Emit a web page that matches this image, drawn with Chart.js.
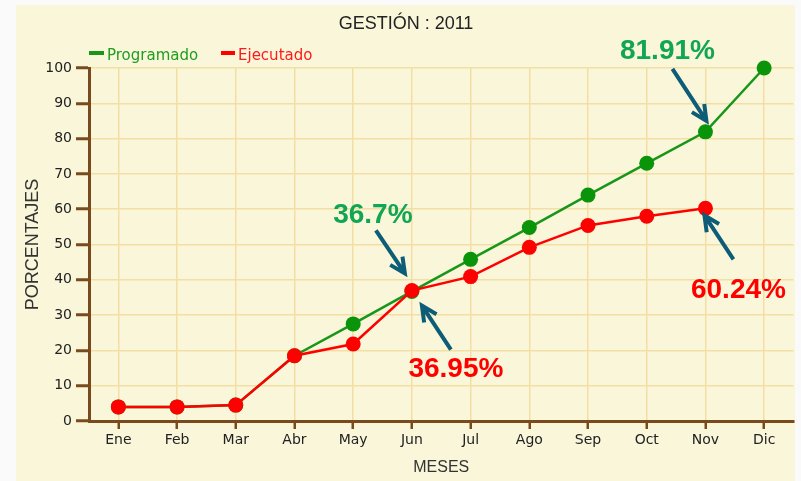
<!doctype html>
<html lang="es">
<head>
  <meta charset="utf-8" />
  <title>Gestión 2011</title>
  <script src="https://cdn.jsdelivr.net/npm/chart.js@4.4.1/dist/chart.umd.min.js"></script>
  <style>
    html, body { margin: 0; padding: 0; background: #fafafa; }
    .chartContainer { position: relative; width: 801px; height: 481px; }
  </style>
</head>
<body>
  <div class="chartContainer">
    <canvas id="avanceChart"></canvas>
  </div>
<script>
  // data
  var meses = ['Ene', 'Feb', 'Mar', 'Abr', 'May', 'Jun', 'Jul', 'Ago', 'Sep', 'Oct', 'Nov', 'Dic'];
  var programado = [4, 4, 4.5, 18.5, 27.5, 36.7, 45.8, 54.8, 64, 73, 81.91, 100];
  var ejecutado = [4, 4, 4.5, 18.5, 21.8, 36.95, 40.9, 49.2, 55.4, 58, 60.24, null];
  var yTicks = [0, 10, 20, 30, 40, 50, 60, 70, 80, 90, 100];

  var brown = '#7a4a1f';
  var gridColor = '#f3dea4';
  var greenLine = '#18961a';
  var greenDot = '#0a940a';
  var red = '#ff0000';
  var arrowColor = '#0d5c78';

  // callouts, placed relative to their point (dataset index, point index)
  var callouts = [
    { ds: 1, i: 10, text: '81.91%', color: '#11a653', tx: -38, ty: -73, from: [-33, -63], to: [1, -11] },
    { ds: 1, i: 5, text: '36.7%', color: '#11a653', tx: -39, ty: -68, from: [-36, -61], to: [-7, -18] },
    { ds: 0, i: 5, text: '36.95%', color: '#ff0000', tx: 44, ty: 86, from: [39, 59], to: [10, 15] },
    { ds: 0, i: 10, text: '60.24%', color: '#ff0000', tx: 33, ty: 90, from: [28, 51], to: [-1, 7] }
  ];

  function arrow(ctx, x1, y1, x2, y2) {
    var a = Math.atan2(y2 - y1, x2 - x1);
    var h = 17;
    ctx.beginPath();
    ctx.moveTo(x1, y1);
    ctx.lineTo(x2, y2);
    ctx.moveTo(x2 - h * Math.cos(a - 0.45), y2 - h * Math.sin(a - 0.45));
    ctx.lineTo(x2, y2);
    ctx.lineTo(x2 - h * Math.cos(a + 0.45), y2 - h * Math.sin(a + 0.45));
    ctx.stroke();
  }

  var decor = {
    id: 'decor',
    beforeDraw: function(chart) {
      var ctx = chart.ctx;
      ctx.save();
      ctx.fillStyle = '#fafafa';
      ctx.fillRect(0, 0, chart.width, chart.height);
      ctx.fillStyle = '#f9f6d9';
      ctx.fillRect(16, 5, 779, chart.height - 5);

      // title
      ctx.fillStyle = '#222';
      ctx.font = '18px "Liberation Sans"';
      ctx.textAlign = 'center';
      ctx.textBaseline = 'alphabetic';
      ctx.fillText('GESTIÓN : 2011', 406, 29);

      // legend
      ctx.font = '15px "DejaVu Sans"';
      ctx.textAlign = 'left';
      ctx.lineWidth = 4;
      ctx.strokeStyle = greenLine;
      ctx.beginPath(); ctx.moveTo(89, 53); ctx.lineTo(104, 53); ctx.stroke();
      ctx.fillStyle = '#1e9e1e';
      ctx.fillText('Programado', 107, 60);
      ctx.strokeStyle = red;
      ctx.beginPath(); ctx.moveTo(221, 53); ctx.lineTo(235, 53); ctx.stroke();
      ctx.fillStyle = '#ff1a1a';
      ctx.fillText('Ejecutado', 238, 60);
      ctx.restore();
    },
    afterDatasetsDraw: function(chart) {
      var ctx = chart.ctx;
      ctx.save();
      callouts.forEach(function(c) {
        var pt = chart.getDatasetMeta(c.ds).data[c.i];
        ctx.strokeStyle = arrowColor;
        ctx.lineWidth = 4;
        ctx.lineCap = 'butt';
        arrow(ctx, pt.x + c.from[0], pt.y + c.from[1], pt.x + c.to[0], pt.y + c.to[1]);
        ctx.fillStyle = c.color;
        ctx.font = 'bold 28px "Liberation Sans"';
        ctx.textAlign = 'center';
        ctx.textBaseline = 'alphabetic';
        ctx.fillText(c.text, pt.x + c.tx, pt.y + c.ty);
      });
      ctx.restore();
    }
  };

  var ctx = document.getElementById('avanceChart').getContext('2d');
  var chart = new Chart(ctx, {
    type: 'line',
    data: {
      labels: meses,
      datasets: [{
        label: 'Ejecutado',
        data: ejecutado,
        borderColor: red,
        backgroundColor: red,
        borderWidth: 2.5,
        pointRadius: 7.5,
        pointBorderWidth: 0,
        pointBackgroundColor: red,
        tension: 0,
        clip: false,
        order: 0
      }, {
        label: 'Programado',
        data: programado,
        borderColor: greenLine,
        backgroundColor: greenDot,
        borderWidth: 2.5,
        pointRadius: 7.5,
        pointBorderWidth: 0,
        pointBackgroundColor: greenDot,
        tension: 0,
        clip: false,
        order: 1
      }]
    },
    options: {
      responsive: true,
      maintainAspectRatio: false,
      animation: false,
      layout: { padding: { left: 16, top: 68, right: 5, bottom: 0 } },
      plugins: {
        legend: { display: false },
        title: { display: false },
        tooltip: { enabled: false }
      },
      scales: {
        x: {
          offset: true,
          grid: {
            offset: false,
            color: gridColor,
            lineWidth: 1.5,
            tickColor: brown,
            tickWidth: 2.5,
            tickLength: 8
          },
          border: { color: brown, width: 3 },
          ticks: {
            color: '#222',
            font: { family: 'DejaVu Sans', size: 14 },
            padding: 3,
            maxRotation: 0
          },
          title: {
            display: true,
            text: 'MESES',
            color: '#333',
            font: { family: 'Liberation Sans', size: 16 },
            padding: { top: 2, bottom: 4 }
          },
          afterFit: function(scale) { scale.height = 60; }
        },
        y: {
          min: 0,
          max: 100,
          afterBuildTicks: function(scale) {
            scale.ticks = yTicks.map(function(v) { return { value: v }; });
          },
          grid: {
            color: gridColor,
            lineWidth: 1.5,
            tickColor: brown,
            tickWidth: 3,
            tickLength: 13
          },
          border: { color: brown, width: 3 },
          ticks: {
            color: '#222',
            font: { family: 'DejaVu Sans', size: 14 },
            padding: 4
          },
          title: {
            display: true,
            text: 'PORCENTAJES',
            color: '#333',
            font: { family: 'Liberation Sans', size: 18 },
            padding: { top: 6, bottom: 0 }
          },
          afterFit: function(scale) { scale.width = 73; }
        }
      }
    },
    plugins: [decor]
  });
</script>
</body>
</html>
